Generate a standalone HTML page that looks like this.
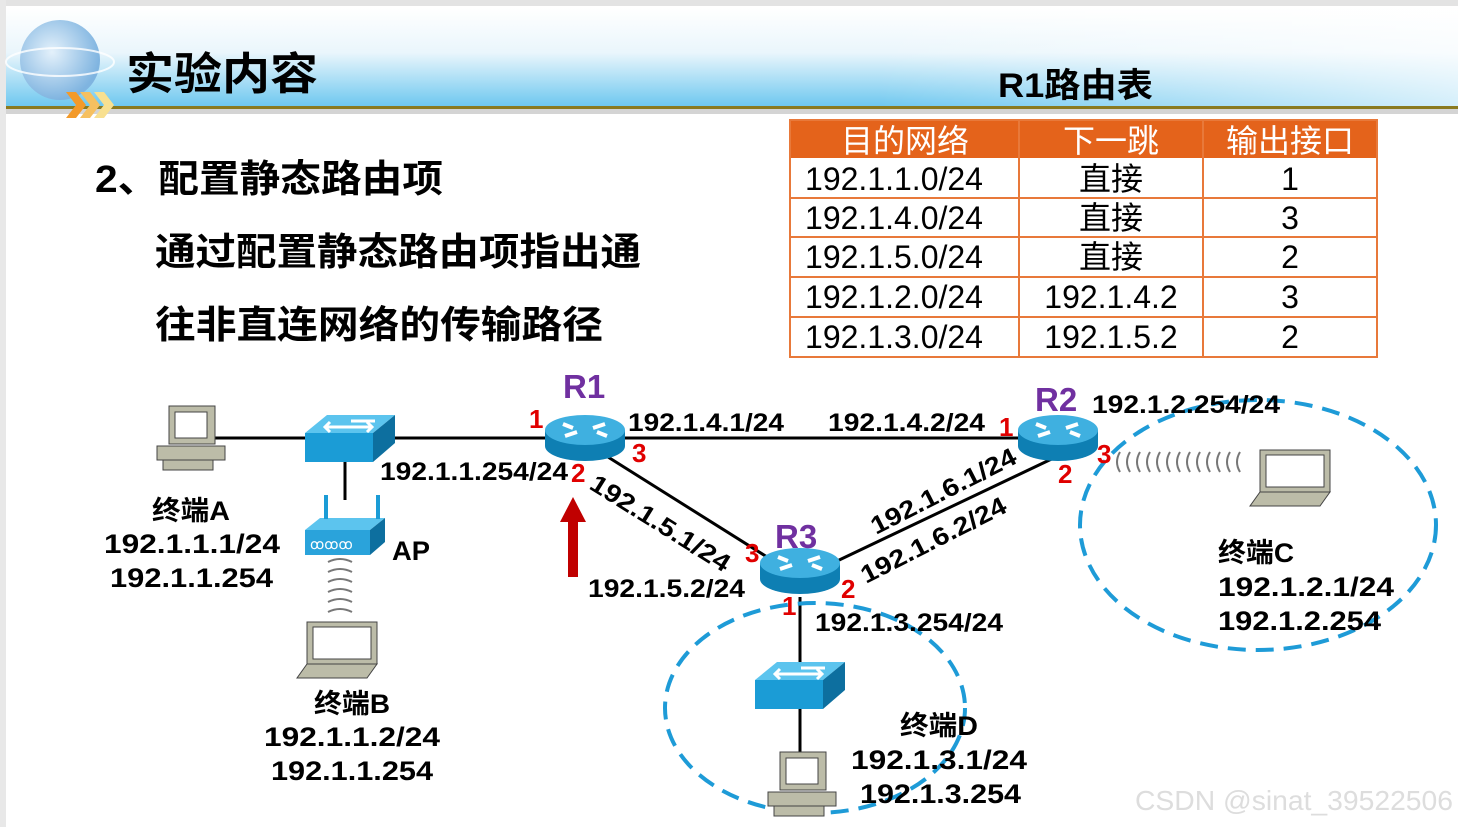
<!DOCTYPE html>
<html><head><meta charset="utf-8"><style>
body{margin:0;width:1458px;height:827px;overflow:hidden;background:#fff;}
svg{display:block}
text{font-family:"Liberation Sans","Noto Sans CJK SC",sans-serif;font-weight:bold;}
.t{font-weight:normal}
</style></head><body>
<svg width="1458" height="827" viewBox="0 0 1458 827">
<defs>
<linearGradient id="hb" x1="0" y1="0" x2="0" y2="1">
<stop offset="0" stop-color="#fff"/><stop offset="0.45" stop-color="#eaf6fc"/><stop offset="1" stop-color="#6cc7ef"/></linearGradient>
<linearGradient id="hbx" x1="0" y1="0" x2="1" y2="0">
<stop offset="0" stop-color="#fff" stop-opacity="0"/><stop offset="0.6" stop-color="#fff" stop-opacity="0"/><stop offset="1" stop-color="#fff" stop-opacity="0.7"/></linearGradient>
<radialGradient id="gl" cx="0.4" cy="0.4" r="0.6"><stop offset="0" stop-color="#e4f1fb"/><stop offset="1" stop-color="#7fb4e0"/></radialGradient>
<g id="router"><path d="M-40,0 v16 a40,15 0 0 0 80,0 v-16z" fill="#0e7fb3"/><ellipse cx="0" cy="0" rx="40" ry="15" fill="#3fb0e0"/>
<path d="M-22,-6 l10,4 M22,6 l-10,-4 M-20,6 l12,-4 M20,-6 l-12,4" stroke="#fff" stroke-width="4"/></g>
<g id="sw"><polygon points="0,18 22,0 90,0 68,18" fill="#5cc4ee"/><rect x="0" y="18" width="68" height="29" fill="#1b9cd6"/><polygon points="68,18 90,0 90,28 68,47" fill="#0d6f9f"/>
<path d="M20,12 h24 M70,6 h-24 M25,7 l-5,5 l5,5 M42,12 h24 M62,7 l5,5 l-5,5" stroke="#fff" stroke-width="3" fill="none"/></g>
<g id="pc"><rect x="12" y="0" width="46" height="38" fill="#bcbca8" stroke="#444"/><rect x="18" y="6" width="32" height="26" fill="#fff" stroke="#444"/><rect x="0" y="40" width="68" height="14" fill="#bcbca8" stroke="#444"/><rect x="6" y="54" width="50" height="10" fill="#bcbca8" stroke="#444"/></g>
<g id="lt"><rect x="10" y="0" width="70" height="42" fill="#bcbca8" stroke="#444"/><rect x="16" y="5" width="58" height="32" fill="#fff" stroke="#444"/><polygon points="10,42 80,42 70,56 0,56" fill="#bcbca8" stroke="#444"/></g>
</defs>
<rect width="1458" height="827" fill="#fff"/>
<rect width="1458" height="6" fill="#e3e3e3"/>
<rect x="0" y="0" width="6" height="827" fill="#e8e8e8"/>
<rect x="6" y="8" width="1452" height="99" fill="url(#hb)"/>
<rect x="6" y="8" width="1452" height="99" fill="url(#hbx)"/>
<rect x="6" y="106" width="1452" height="3" fill="#8a7a20"/>
<rect x="6" y="109" width="1452" height="5" fill="#aaa" opacity="0.5"/>
<circle cx="60" cy="60" r="40" fill="url(#gl)"/>
<ellipse cx="60" cy="62" rx="54" ry="14" fill="none" stroke="#fff" stroke-width="2" opacity="0.8"/>
<path d="M66,92 l10,0 l10,13 l-10,13 l-10,0 l10,-13z" fill="#f39a2a"/>
<path d="M80,92 l10,0 l10,13 l-10,13 l-10,0 l10,-13z" fill="#f6c060"/>
<path d="M94,92 l10,0 l10,13 l-10,13 l-10,0 l10,-13z" fill="#f8e090"/>
<text x="126" y="89" font-size="44" fill="#000" textLength="192" lengthAdjust="spacingAndGlyphs">实验内容</text>
<text x="998" y="97" font-size="34" fill="#000" textLength="155" lengthAdjust="spacingAndGlyphs">R1路由表</text>
<text x="95" y="192" font-size="38" textLength="348" lengthAdjust="spacingAndGlyphs">2、配置静态路由项</text>
<text x="155" y="265" font-size="38" textLength="486" lengthAdjust="spacingAndGlyphs">通过配置静态路由项指出通</text>
<text x="155" y="338" font-size="38" textLength="448" lengthAdjust="spacingAndGlyphs">往非直连网络的传输路径</text>
<!-- table -->
<rect x="790" y="120" width="587" height="38" fill="#e4631b"/>
<g stroke="#e8793a" stroke-width="2" fill="none">
<rect x="790" y="120" width="587" height="237"/>
<path d="M790,198H1377M790,237H1377M790,277H1377M790,317H1377M1019,120V357M1203,120V357"/>
</g>
<g class="t" font-size="32" text-anchor="middle">
<text class="t" x="905" y="152" fill="#fff">目的网络</text><text class="t" x="1111" y="152" fill="#fff">下一跳</text><text class="t" x="1290" y="152" fill="#fff">输出接口</text>
<text class="t" x="894" y="190">192.1.1.0/24</text><text class="t" x="1111" y="190">直接</text><text class="t" x="1290" y="190">1</text>
<text class="t" x="894" y="229">192.1.4.0/24</text><text class="t" x="1111" y="229">直接</text><text class="t" x="1290" y="229">3</text>
<text class="t" x="894" y="268">192.1.5.0/24</text><text class="t" x="1111" y="268">直接</text><text class="t" x="1290" y="268">2</text>
<text class="t" x="894" y="308">192.1.2.0/24</text><text class="t" x="1111" y="308">192.1.4.2</text><text class="t" x="1290" y="308">3</text>
<text class="t" x="894" y="348">192.1.3.0/24</text><text class="t" x="1111" y="348">192.1.5.2</text><text class="t" x="1290" y="348">2</text>
</g>
<!-- links -->
<g stroke="#000" stroke-width="3">
<path d="M215,438H305M395,438H545M625,438H1018M345,462V500M600,452L775,562M835,562L1060,455M800,597V755"/>
</g>
<g fill="none" stroke="#1e9bd7" stroke-width="4" stroke-dasharray="18,10">
<ellipse cx="815" cy="708" rx="150" ry="105"/>
<ellipse cx="1258" cy="525" rx="178" ry="125"/>
</g>
<use href="#pc" x="157" y="406"/>
<use href="#sw" x="305" y="415"/>
<g><rect x="305" y="530" width="65" height="25" fill="#2aa3db"/><polygon points="305,530 320,518 385,518 370,530" fill="#5cc4ee"/><polygon points="370,530 385,518 385,542 370,555" fill="#0d6f9f"/>
<rect x="324" y="495" width="4" height="24" fill="#1b9cd6"/><rect x="376" y="495" width="4" height="24" fill="#1b9cd6"/>
<text x="310" y="549" font-size="14" fill="#fff" class="t">ꝏꝏꝏ</text></g>
<g fill="none" stroke="#777" stroke-width="2"><path d="M328,562q12,-6 24,0M328,572q12,-6 24,0M328,582q12,-6 24,0M328,592q12,-6 24,0M328,602q12,-6 24,0M328,612q12,-6 24,0"/></g>
<use href="#lt" x="297" y="622"/>
<use href="#router" x="585" y="430"/>
<use href="#router" x="1058" y="430"/>
<use href="#router" x="800" y="563"/>
<use href="#sw" x="755" y="662"/>
<use href="#pc" x="768" y="752"/>
<use href="#lt" x="1250" y="450"/>
<g fill="none" stroke="#777" stroke-width="2"><path d="M1120,452q-6,10 0,20M1130,452q-6,10 0,20M1140,452q-6,10 0,20M1150,452q-6,10 0,20M1160,452q-6,10 0,20M1170,452q-6,10 0,20M1180,452q-6,10 0,20M1190,452q-6,10 0,20M1200,452q-6,10 0,20M1210,452q-6,10 0,20M1220,452q-6,10 0,20M1230,452q-6,10 0,20M1240,452q-6,10 0,20"/></g>
<polygon points="573,497 586,522 578,522 578,577 568,577 568,522 560,522" fill="#c00000"/>
<g font-size="27" fill="#000" lengthAdjust="spacingAndGlyphs">
<text x="152" y="520" textLength="78" lengthAdjust="spacingAndGlyphs">终端A</text>
<text x="104" y="553" textLength="176" lengthAdjust="spacingAndGlyphs">192.1.1.1/24</text>
<text x="110" y="587" textLength="163" lengthAdjust="spacingAndGlyphs">192.1.1.254</text>
<text x="392" y="560" textLength="38" lengthAdjust="spacingAndGlyphs">AP</text>
<text x="314" y="713" textLength="76" lengthAdjust="spacingAndGlyphs">终端B</text>
<text x="264" y="746" textLength="176" lengthAdjust="spacingAndGlyphs">192.1.1.2/24</text>
<text x="271" y="780" textLength="162" lengthAdjust="spacingAndGlyphs">192.1.1.254</text>
<text x="900" y="735" textLength="78" lengthAdjust="spacingAndGlyphs">终端D</text>
<text x="851" y="769" textLength="176" lengthAdjust="spacingAndGlyphs">192.1.3.1/24</text>
<text x="860" y="803" textLength="161" lengthAdjust="spacingAndGlyphs">192.1.3.254</text>
<text x="1218" y="562" textLength="76" lengthAdjust="spacingAndGlyphs">终端C</text>
<text x="1218" y="596" textLength="176" lengthAdjust="spacingAndGlyphs">192.1.2.1/24</text>
<text x="1218" y="630" textLength="163" lengthAdjust="spacingAndGlyphs">192.1.2.254</text>
</g>
<g font-size="25" fill="#000">
<text x="380" y="480" textLength="188" lengthAdjust="spacingAndGlyphs">192.1.1.254/24</text>
<text x="628" y="431" textLength="156" lengthAdjust="spacingAndGlyphs">192.1.4.1/24</text>
<text x="828" y="431" textLength="157" lengthAdjust="spacingAndGlyphs">192.1.4.2/24</text>
<text x="1092" y="413" textLength="188" lengthAdjust="spacingAndGlyphs">192.1.2.254/24</text>
<text x="588" y="597" textLength="157" lengthAdjust="spacingAndGlyphs">192.1.5.2/24</text>
<text x="815" y="631" textLength="188" lengthAdjust="spacingAndGlyphs">192.1.3.254/24</text>
<text transform="translate(588,488) rotate(32)" textLength="160" lengthAdjust="spacingAndGlyphs">192.1.5.1/24</text>
<text transform="translate(876,535) rotate(-27)" textLength="160" lengthAdjust="spacingAndGlyphs">192.1.6.1/24</text>
<text transform="translate(866,584) rotate(-27)" textLength="160" lengthAdjust="spacingAndGlyphs">192.1.6.2/24</text>
</g>
<g font-size="33" fill="#7030a0">
<text x="563" y="398">R1</text><text x="1035" y="411">R2</text><text x="775" y="548">R3</text>
</g>
<g font-size="26" fill="#e00000">
<text x="529" y="428">1</text><text x="632" y="462">3</text><text x="571" y="482">2</text>
<text x="999" y="436">1</text><text x="1097" y="463">3</text><text x="1058" y="483">2</text>
<text x="745" y="562">3</text><text x="841" y="598">2</text><text x="782" y="615">1</text>
</g>
<text x="1135" y="810" font-size="28" fill="#ddd" class="t" textLength="318" lengthAdjust="spacingAndGlyphs" style="font-weight:normal">CSDN @sinat_39522506</text>
</svg>
</body></html>
